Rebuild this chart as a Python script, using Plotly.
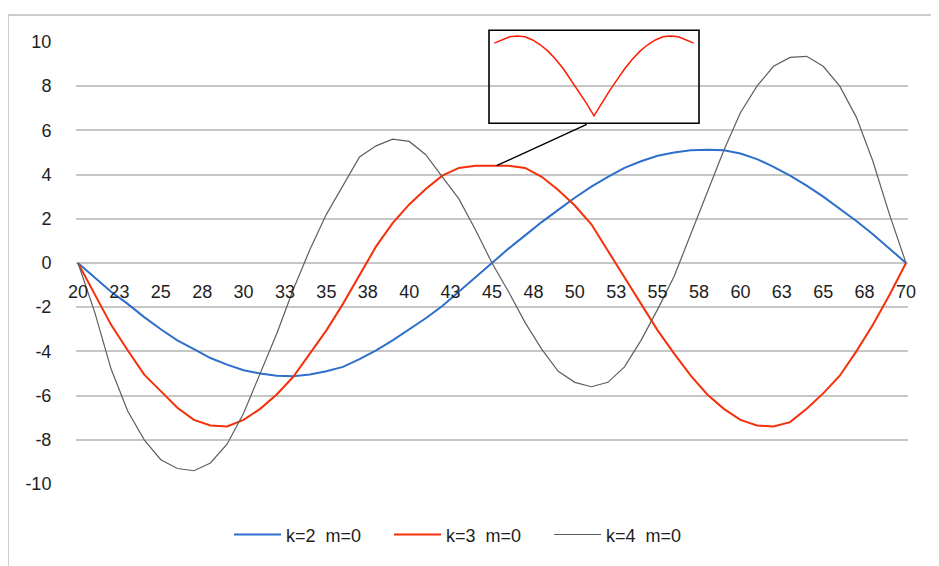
import plotly.graph_objects as go

# ---- data ----
x_vals = list(range(20, 71))

k2_m0 = [0, -0.65, -1.3, -1.85, -2.45, -3.0, -3.5, -3.9, -4.3, -4.6,
         -4.85, -5.0, -5.1, -5.12, -5.05, -4.9, -4.7, -4.35, -3.95, -3.5,
         -3.0, -2.5, -1.95, -1.3, -0.65, 0.0, 0.65, 1.25, 1.85, 2.4,
         2.95, 3.45, 3.9, 4.3, 4.6, 4.85, 5.0, 5.1, 5.12, 5.1,
         4.95, 4.7, 4.35, 3.95, 3.5, 3.0, 2.45, 1.9, 1.3, 0.65, 0]

k3_m0 = [0, -1.4, -2.8, -3.95, -5.05, -5.8, -6.55, -7.1, -7.35, -7.4,
         -7.1, -6.6, -5.95, -5.15, -4.1, -3.05, -1.85, -0.55, 0.75, 1.8,
         2.65, 3.35, 3.95, 4.3, 4.4, 4.4, 4.4, 4.3, 3.9, 3.3,
         2.6, 1.75, 0.55, -0.7, -1.9, -3.05, -4.1, -5.1, -5.95, -6.6,
         -7.1, -7.35, -7.4, -7.2, -6.6, -5.9, -5.1, -4.0, -2.8, -1.45, 0]

k4_m0 = [0, -2.2, -4.8, -6.7, -8.0, -8.9, -9.3, -9.4, -9.05, -8.2,
         -6.8, -5.0, -3.2, -1.2, 0.6, 2.2, 3.5, 4.8, 5.3, 5.6,
         5.5, 4.9, 3.9, 2.9, 1.5, 0.0, -1.3, -2.7, -3.9, -4.9,
         -5.4, -5.6, -5.4, -4.7, -3.5, -2.1, -0.6, 1.3, 3.2, 5.1,
         6.8, 8.0, 8.9, 9.3, 9.35, 8.9, 8.0, 6.6, 4.6, 2.2, 0]

series_names = ["k=2\u00a0 m=0", "k=3\u00a0 m=0", "k=4\u00a0 m=0"]

x_tickvals = [20, 22.5, 25, 27.5, 30, 32.5, 35, 37.5, 40, 42.5, 45,
              47.5, 50, 52.5, 55, 57.5, 60, 62.5, 65, 67.5, 70]
x_ticktext = ["20", "23", "25", "28", "30", "33", "35", "38", "40", "43", "45",
              "48", "50", "53", "55", "58", "60", "63", "65", "68", "70"]
y_tickvals = [10, 8, 6, 4, 2, 0, -2, -4, -6, -8, -10]
y_ticktext = ["10", "8", "6", "4", "2", "0", "-2", "-4", "-6", "-8", "-10"]

# inset: zoomed view of the k=3 peak
inset_x = [-1.3, -1.2, -1.1, -1.0, -0.9, -0.8, -0.7, -0.6, -0.5, -0.4, -0.3, -0.2, -0.1, 0.0,
           0.1, 0.2, 0.3, 0.4, 0.5, 0.6, 0.7, 0.8, 0.9, 1.0, 1.1, 1.2, 1.3]
inset_y = [0.91, 0.95, 0.99, 1.0, 0.99, 0.95, 0.89, 0.81, 0.71, 0.59, 0.45, 0.31, 0.16, 0.0,
           0.16, 0.31, 0.45, 0.59, 0.71, 0.81, 0.89, 0.95, 0.99, 1.0, 0.99, 0.95, 0.91]

# connector from the red peak to the inset box
conn_x = [45.28, 50.72]
conn_y = [4.4, 6.27]

colors = ["#2E6FCB", "#F5300A", "#5E5E5E"]
widths = [2, 2, 1.2]

FONT = "Liberation Sans, Arial, sans-serif"

fig = go.Figure()
for name, ys, c, w in zip(series_names, [k2_m0, k3_m0, k4_m0], colors, widths):
    fig.add_trace(go.Scatter(x=x_vals, y=ys, mode="lines", name=name,
                             line=dict(color=c, width=w), xaxis="x", yaxis="y"))

fig.add_trace(go.Scatter(x=inset_x, y=inset_y, mode="lines", showlegend=False,
                         line=dict(color="#FF1A00", width=1.5), xaxis="x2", yaxis="y2"))

# figure is placed at an 8px page offset; plot area spans page x 76..908, y 28..484
W, H = 931, 558
L, T = 68, 20
PW = 832.0
H_PLOT = 456.0
main_top = 444.0 / H_PLOT
zero_pos = (476 - 254) / H_PLOT


def px_x(page_x):
    return (page_x - 8 - L) / PW


def px_y(page_y):
    return (476 - (page_y - 8)) / H_PLOT


fig.update_layout(
    width=W, height=H,
    margin=dict(l=L, r=W - L - 832, t=T, b=H - T - 456),
    paper_bgcolor="white",
    plot_bgcolor="rgba(0,0,0,0)",
    font=dict(family=FONT, size=18, color="#1E1E1E"),
    showlegend=True,
    legend=dict(orientation="h", x=0.5 - 23 / PW, xanchor="center", y=px_y(535), yanchor="middle",
                font=dict(size=18), entrywidth=98, entrywidthmode="pixels", itemwidth=47,
                bgcolor="rgba(0,0,0,0)"),
    xaxis=dict(range=[19.88, 70.12], tickvals=x_tickvals, ticktext=x_ticktext,
               showgrid=False, zeroline=False, showline=False,
               anchor="free", position=zero_pos,
               ticks="outside", ticklen=12, tickcolor="rgba(0,0,0,0)",
               tickfont=dict(size=18, family=FONT)),
    yaxis=dict(range=[-10, 10], domain=[0, main_top], tickvals=y_tickvals, ticktext=y_ticktext,
               showgrid=True, gridcolor="#C6C6C6", gridwidth=1.5,
               zeroline=False, showline=False,
               ticks="outside", ticklen=20, tickcolor="rgba(0,0,0,0)",
               tickfont=dict(size=18, family=FONT)),
    xaxis2=dict(domain=[px_x(489), px_x(699)], range=[-1.369, 1.369],
                anchor="y2", visible=False),
    yaxis2=dict(domain=[px_y(121.7), px_y(28.3)], range=[-0.092, 1.071],
                anchor="x2", visible=False),
)

# white fill behind inset (hides gridlines), and its black frame
x0, x1 = px_x(489), px_x(699)
y0, y1 = px_y(121.7), px_y(28.3)
fig.add_shape(type="rect", xref="paper", yref="paper", x0=x0, x1=x1, y0=y0, y1=y1,
              fillcolor="white", line=dict(width=0), layer="between")
fig.add_shape(type="rect", xref="paper", yref="paper", x0=x0, x1=x1, y0=y0, y1=y1,
              fillcolor="rgba(0,0,0,0)", line=dict(color="black", width=1.6), layer="above")
fig.add_shape(type="line", xref="x", yref="y", x0=conn_x[0], y0=conn_y[0], x1=conn_x[1], y1=conn_y[1],
              line=dict(color="black", width=1.4), layer="above")

# outer chart-area border (runs off the right and bottom edges)
fig.add_shape(type="rect", xref="paper", yref="paper",
              x0=px_x(8), x1=1.2, y0=px_y(13), y1=-0.5,
              line=dict(color="#BDBDBD", width=1.5), fillcolor="rgba(0,0,0,0)", layer="below")

fig.write_html("out.html")
